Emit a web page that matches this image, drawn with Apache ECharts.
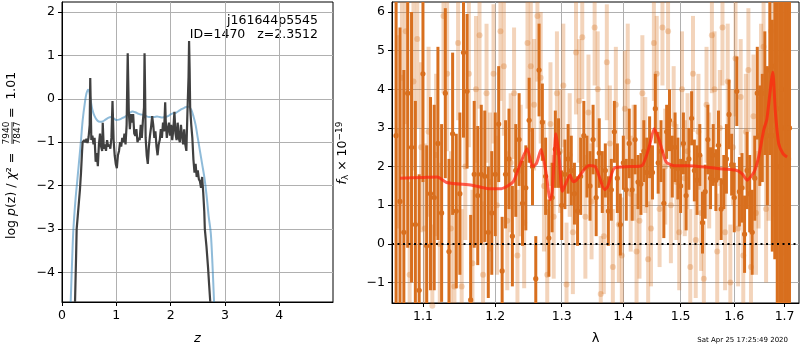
<!DOCTYPE html>
<html>
<head>
<meta charset="utf-8">
<script src="https://cdn.jsdelivr.net/npm/echarts@6/dist/echarts.min.js"></script>
<style>
  html, body { margin: 0; padding: 0; background: #fff; }
  #main { width: 800px; height: 350px; }
</style>
</head>
<body>
<div id="main"></div>
<script>
// ---- left panel: log p(z) ----
var zTicks = [0, 1, 2, 3, 4];
var logpTicks = [-4, -3, -2, -1, 0, 1, 2];

var zBlue = [0.16,0.19,0.21,0.25,0.28,0.31,0.35,0.38,0.42,0.45,0.48,0.50,0.53,0.56,0.60,0.65,0.70,0.75,0.80,0.85,
  0.90,0.95,1.00,1.05,1.10,1.15,1.20,1.25,1.30,1.35,1.40,1.45,1.50,1.55,1.60,1.65,1.70,1.75,1.80,1.85,
  1.90,1.95,2.00,2.05,2.10,2.15,2.20,2.25,2.30,2.34,2.38,2.42,2.46,2.50,2.54,2.58,2.62,2.66,2.70,2.74,2.77,2.80];
var logpBlue = [-4.68,-3.6,-3.0,-2.3,-1.9,-1.5,-0.95,-0.5,-0.1,0.12,0.21,0.18,-0.05,-0.25,-0.4,-0.5,-0.53,-0.52,-0.48,-0.44,
  -0.42,-0.45,-0.49,-0.48,-0.45,-0.42,-0.38,-0.32,-0.29,-0.31,-0.34,-0.36,-0.37,-0.40,-0.42,-0.42,-0.42,-0.41,-0.42,-0.43,
  -0.42,-0.40,-0.36,-0.33,-0.32,-0.28,-0.24,-0.21,-0.18,-0.18,-0.25,-0.4,-0.6,-0.9,-1.2,-1.5,-1.8,-2.2,-2.7,-3.1,-3.8,-4.68];

var zDark = [0.24,0.26,0.27,0.29,0.31,0.33,0.35,0.37,0.38,0.41,0.43,0.45,0.47,0.49,0.51,0.52,0.53,0.54,0.56,0.58,
  0.60,0.62,0.64,0.66,0.68,0.70,0.72,0.74,0.75,0.77,0.79,0.81,0.83,0.85,0.87,0.89,0.91,0.93,0.95,0.97,
  0.99,1.01,1.03,1.05,1.07,1.09,1.11,1.13,1.15,1.17,1.19,1.21,1.23,1.25,1.27,1.29,1.31,1.33,1.35,1.37,
  1.39,1.41,1.43,1.45,1.47,1.49,1.51,1.52,1.53,1.54,1.56,1.58,1.60,1.62,1.64,1.66,1.68,1.70,1.72,1.74,
  1.76,1.78,1.80,1.82,1.84,1.86,1.88,1.90,1.91,1.93,1.95,1.97,1.99,2.01,2.03,2.05,2.07,2.09,2.11,2.13,
  2.15,2.17,2.19,2.21,2.23,2.25,2.27,2.29,2.31,2.33,2.34,2.35,2.36,2.38,2.40,2.42,2.44,2.46,2.48,2.50,
  2.52,2.54,2.56,2.58,2.60,2.62,2.63,2.66,2.69,2.71,2.73];
var logpDark = [-4.68,-3.6,-3.0,-2.7,-2.4,-2.1,-1.7,-1.2,-1.0,-0.95,-1.0,-0.92,-1.02,-0.88,-0.6,0.48,-0.2,-0.95,-0.85,-1.05,
  -0.9,-1.45,-1.25,-1.55,-1.05,-0.8,-1.1,-1.2,-0.55,-1.15,-1.05,-1.2,-0.95,-1.1,-1.05,-1.15,-0.9,-0.05,-0.95,-1.3,
  -1.5,-1.6,-1.3,-1.2,-1.0,-1.1,-0.9,-1.0,-0.8,-1.05,-0.6,1.05,-0.3,-0.7,-0.35,-0.55,-0.35,-0.8,-0.85,-0.7,
  -1.0,-0.9,-0.95,-0.6,-0.9,-0.5,-0.2,1.05,0.2,-0.9,-1.3,-1.5,-1.1,-0.85,-0.65,-0.4,-0.6,-0.9,-0.75,-1.1,
  -1.3,-1.05,-0.95,-0.7,-0.9,-0.55,-0.75,-0.08,-0.5,-0.9,-0.7,-0.55,-0.85,-0.6,-0.95,-0.7,-0.3,-0.8,-0.95,-0.55,
  -0.9,-1.0,-0.6,-0.85,-1.05,-0.7,-1.05,-1.2,-0.3,0.5,1.33,0.7,-0.2,-0.6,-0.9,-1.4,-1.7,-1.5,-1.8,-1.65,
  -1.85,-1.9,-2.05,-1.8,-2.15,-2.6,-3.0,-3.4,-3.9,-4.3,-4.68];

// ---- right panel: spectrum ----
var waveTicks = [1.1, 1.2, 1.3, 1.4, 1.5, 1.6, 1.7];
var fluxTicks = [-1, 0, 1, 2, 3, 4, 5, 6];

var darkWave = [1.065,1.070,1.075,1.080,1.085,1.090,1.095,1.100,1.105,1.110,
  1.115,1.120,1.125,1.130,1.135,1.140,1.145,1.150,1.155,1.160,
  1.165,1.170,1.175,1.180,1.185,1.190,1.195,1.200,1.205,1.210,
  1.215,1.220,1.225,1.230,1.235,1.240,1.245,1.250,1.255,1.260,
  1.265,1.270,1.275,1.280,1.285,1.290,1.295,1.300,1.305,1.310,
  1.315,1.320,1.325,1.330,1.335,1.340,1.345,1.350,1.355,1.360,
  1.365,1.370,1.375,1.380,1.385,1.390,1.395,1.400,1.405,1.410,
  1.415,1.420,1.425,1.430,1.435,1.440,1.445,1.450,1.455,1.460,
  1.465,1.470,1.475,1.480,1.485,1.490,1.495,1.500,1.505,1.510,
  1.515,1.520,1.525,1.530,1.535,1.540,1.545,1.550,1.555,1.560,
  1.565,1.570,1.575,1.580,1.585,1.590,1.595,1.600,1.605,1.610,
  1.615,1.620,1.625,1.630,1.635,1.640,1.645,1.650,1.655,1.660,
  1.665,1.670,1.675,1.680,1.685,1.690,1.695,1.700,1.705,1.710];
var darkFlux = [2.8,1.1,0.3,3.9,2.5,0.5,-1.2,4.4,-0.05,1.3,
  1.2,2.6,0.8,3.9,-0.2,2.85,0.85,1.3,4.95,3.95,
  -1.45,1.8,1.25,1.8,1.75,0.3,0.8,1.8,3.1,-0.7,
  1.8,2.2,0.2,1.9,2.7,1.05,1.45,3.2,2.0,-0.9,
  4.5,3.15,1.75,0.15,1.2,2.45,2.35,1.0,1.8,2.2,
  1.9,1.3,0.85,1.75,2.8,2.0,1.5,2.7,1.2,2.35,
  1.6,1.9,0.85,1.4,2.9,1.7,0.5,2.1,1.4,2.6,
  1.4,2.7,1.6,1.55,2.4,1.85,2.5,1.85,3.5,2.1,
  2.4,1.05,2.9,3.2,2.0,2.5,1.95,1.5,2.6,1.25,
  2.2,3.25,1.9,1.65,2.3,0.55,1.35,2.7,1.7,2.3,
  1.65,2.55,0.9,1.6,2.2,3.35,2.05,1.2,3.95,1.35,
  1.45,0.25,1.9,1.3,0.3,1.7,3.9,2.8,3.0,3.9,
  2.8,4.5,2.8,4.6,3.5,2.0,4.0,3.0,2.5,3.0];
var darkErr = [5,4.5,4.2,4,3.5,3.2,3.0,2.8,2.6,2.5,
  2.4,2.5,2.3,2.2,2.4,2.1,2.0,2.1,2.2,2.0,
  2.2,1.9,1.8,1.8,1.7,1.7,1.6,1.6,1.5,1.4,
  1.4,1.3,1.3,1.2,1.2,1.1,1.1,1.1,1.0,1.1,
  1.2,1.0,1.0,1.0,0.9,1.0,0.9,0.9,0.9,0.9,
  0.9,0.8,0.9,1.0,0.9,0.8,0.9,0.9,1.0,0.9,
  0.8,0.7,0.9,0.8,0.8,0.9,0.8,0.7,0.8,0.9,
  0.8,0.9,0.7,0.8,0.8,0.9,0.8,0.7,0.9,0.8,
  0.8,0.9,0.7,0.8,0.8,0.9,0.8,0.7,0.8,0.9,
  0.8,0.7,0.8,0.9,0.8,0.8,0.7,0.9,0.8,0.8,
  0.8,0.9,0.8,0.7,0.9,0.9,0.8,0.9,0.9,0.9,
  0.9,1.0,1.0,1.0,1.1,1.1,1.2,1.3,1.4,1.6,
  1.8,2.2,3,5,6,7,7,8,8,8];

var lightWave = [1.0675,1.0725,1.0775,1.0825,1.0875,1.0925,1.0975,1.1025,1.1075,1.1125,
  1.1175,1.1225,1.1275,1.1325,1.1375,1.1425,1.1475,1.1525,1.1575,1.1625,
  1.1675,1.1725,1.1775,1.1825,1.1875,1.1925,1.1975,1.2025,1.2075,1.2125,
  1.2175,1.2225,1.2275,1.2325,1.2375,1.2425,1.2475,1.2525,1.2575,1.2625,
  1.2675,1.2725,1.2775,1.2825,1.2875,1.2925,1.2975,1.3025,1.3075,1.3125,
  1.3175,1.3225,1.3275,1.3325,1.3375,1.3425,1.3475,1.3525,1.3575,1.3625,
  1.3675,1.3725,1.3775,1.3825,1.3875,1.3925,1.3975,1.4025,1.4075,1.4125,
  1.4175,1.4225,1.4275,1.4325,1.4375,1.4425,1.4475,1.4525,1.4575,1.4625,
  1.4675,1.4725,1.4775,1.4825,1.4875,1.4925,1.4975,1.5025,1.5075,1.5125,
  1.5175,1.5225,1.5275,1.5325,1.5375,1.5425,1.5475,1.5525,1.5575,1.5625,
  1.5675,1.5725,1.5775,1.5825,1.5875,1.5925,1.5975,1.6025,1.6075,1.6125,
  1.6175,1.6225,1.6275,1.6325,1.6375,1.6425,1.6475,1.6525,1.6575,1.6625,
  1.6675,1.6725,1.6775,1.6825,1.6875,1.6925,1.6975,1.7025,1.7075];
var lightFlux = [2.9,4.3,5.5,-0.8,4.2,5.3,2.5,0.4,2.9,-1.6,
  2.3,0.0,5.9,4.4,0.4,-1.1,5.2,-1.1,2.0,4.4,
  -0.5,4.0,5.4,-0.8,3.9,1.6,4.4,1.0,5.5,4.6,
  0.6,2.1,3.9,-0.3,1.9,0.55,5.2,4.6,3.6,5.9,
  4.3,1.5,-0.8,3.1,0.7,3.9,2.4,4.1,-1.05,2.3,
  0.3,4.95,3.7,5.35,0.7,3.4,1.1,5.6,4.0,-1.3,
  0.2,4.7,2.6,-0.6,3.6,0.5,-0.3,3.5,4.2,1.3,
  2.1,-0.2,0.6,3.9,2.3,-0.4,0.4,5.2,4.4,0.9,
  5.6,2.0,5.5,1.0,3.1,1.6,0.3,4.0,1.7,2.4,
  -0.6,4.4,0.1,2.9,0.8,-0.9,3.6,1.9,5.4,4.0,
  -0.2,3.0,5.6,0.3,4.2,-1.0,2.5,4.8,0.4,3.8,
  -0.3,2.9,4.5,-0.6,3.3,0.8,2.1,4.0,5.1,0.9,
  2.6,5.5,3.2,2.8,4.8,1.2,3.7,5.0,2.2];
var lightErr = [2.5,2.5,2.4,2.4,2.3,2.3,2.2,2.2,2.2,2.1,
  2.1,2.1,2.0,2.0,2.0,2.0,2.0,2.0,1.9,1.9,
  1.9,1.9,1.9,1.9,1.8,1.8,1.8,1.8,1.8,1.8,
  1.8,1.8,1.7,1.7,1.7,1.7,1.7,1.7,1.7,1.7,
  1.7,1.7,1.7,1.6,1.6,1.6,1.6,1.6,1.6,1.6,
  1.6,1.6,1.6,1.6,1.6,1.5,1.5,1.5,1.5,1.5,
  1.5,1.5,1.5,1.5,1.5,1.5,1.5,1.5,1.5,1.5,
  1.5,1.5,1.5,1.5,1.5,1.5,1.5,1.5,1.5,1.5,
  1.5,1.5,1.5,1.5,1.5,1.5,1.5,1.5,1.5,1.5,
  1.5,1.5,1.5,1.5,1.5,1.5,1.5,1.5,1.5,1.5,
  1.5,1.5,1.5,1.5,1.5,1.5,1.5,1.5,1.5,1.5,
  1.5,1.5,1.6,1.6,1.6,1.6,1.7,1.7,1.8,1.9,
  2.0,2.2,2.5,3,3.5,4,4,4,4];

var modelWave = [1.070,1.101,1.119,1.133,1.167,1.190,1.209,1.226,1.235,1.247,1.255,1.261,1.268,1.275,1.282,1.285,
  1.291,1.296,1.301,1.313,1.318,1.323,1.343,1.354,1.369,1.374,1.385,1.411,1.432,1.444,1.453,1.462,1.474,
  1.489,1.513,1.544,1.569,1.602,1.615,1.625,1.639,1.648,1.658,1.664,1.676,1.681,1.688,1.697,1.705];
var modelFlux = [1.70,1.72,1.73,1.58,1.52,1.43,1.43,1.60,1.99,2.46,2.00,2.08,2.44,1.91,1.14,1.31,
  2.85,2.26,1.36,1.78,1.61,1.65,2.03,1.99,1.40,1.48,1.96,2.00,2.03,2.50,2.98,2.68,2.12,
  2.02,2.02,1.99,1.95,1.91,1.82,1.65,1.87,2.27,2.96,3.22,4.44,3.45,2.59,2.33,2.25];

var FONT = 'DejaVu Sans';
var minus = function (s) { return String(s).replace('-', '\u2212'); };

function pairs(xs, ys) {
    return xs.map(function (x, i) { return [x, ys[i]]; });
}
// wavelength axis is logarithmic: plot ln(lambda)
function logPairs(ws, fs) {
    return ws.map(function (w, i) { return [Math.log(w), fs[i]]; });
}
function bars(ws, fs, es) {
    return ws.map(function (w, i) { return [Math.log(w), fs[i], es[i]]; });
}

function errorBars(color, barW, dotR) {
    return function (params, api) {
        var x = api.value(0), y = api.value(1), e = api.value(2);
        var hi = api.coord([x, y + e]);
        var lo = api.coord([x, y - e]);
        var mid = api.coord([x, y]);
        var cs = params.coordSys;
        var box = {x: cs.x, y: cs.y, width: cs.width, height: cs.height};
        var bar = echarts.graphic.clipRectByRect(
            {x: hi[0] - barW / 2, y: hi[1], width: barW, height: lo[1] - hi[1]}, box);
        var kids = [];
        if (bar) kids.push({type: 'rect', shape: bar, style: {fill: color}});
        if (mid[1] >= cs.y - dotR && mid[1] <= cs.y + cs.height + dotR) {
            kids.push({type: 'circle', shape: {cx: mid[0], cy: mid[1], r: dotR}, style: {fill: color}});
        }
        return {type: 'group', children: kids};
    };
}

var axisCommon = {
    axisLine: {show: true, onZero: false, lineStyle: {color: '#000', width: 1}},
    axisTick: {show: true, length: 4, lineStyle: {color: '#000', width: 1}},
    splitLine: {show: true, lineStyle: {color: '#b0b0b0', width: 1}},
    nameTextStyle: {color: '#000', fontFamily: FONT, fontSize: 13}
};
function axis(extra, ticks, fmt) {
    var a = echarts.util.merge(echarts.util.clone(axisCommon), extra, true);
    a.axisTick.customValues = ticks;
    a.axisLabel = {customValues: ticks, color: '#000', fontFamily: FONT, fontSize: 12.5, margin: 7, formatter: fmt};
    return a;
}

var lnTicks = waveTicks.map(Math.log);

var chart = echarts.init(document.getElementById('main'));

var option = {
    animation: false,
    backgroundColor: '#fff',
    textStyle: {fontFamily: FONT},
    grid: [
        {left: 62, top: 2, width: 271, height: 302, show: true, borderColor: '#000', borderWidth: 1},
        {left: 392, top: 2, width: 407, height: 302, show: true, borderColor: '#000', borderWidth: 1}
    ],
    xAxis: [
        axis({type: 'value', gridIndex: 0, min: 0, max: 4.99, name: 'z', nameLocation: 'middle', nameGap: 30,
              nameTextStyle: {fontStyle: 'italic'}}, zTicks, function (v) { return minus(v); }),
        axis({type: 'value', gridIndex: 1, min: 0.05805, max: 0.54795, name: 'λ', nameLocation: 'middle', nameGap: 29},
             lnTicks, function (v) { return Math.exp(v).toFixed(1); })
    ],
    yAxis: [
        axis({type: 'value', gridIndex: 0, min: -4.68, max: 2.23}, logpTicks, function (v) { return minus(v); }),
        axis({type: 'value', gridIndex: 1, min: -1.53, max: 6.26}, fluxTicks, function (v) { return minus(v); })
    ],
    graphic: [
        {type: 'group', x: 12, y: 239, rotation: Math.PI / 2, children: [
            {type: 'text', x: 0, y: 0, style: {text: 'log {i|p}(z) / {i|χ}² =', fill: '#000', font: '12.5px "DejaVu Sans"',
                textAlign: 'left', textVerticalAlign: 'middle', align: 'left', verticalAlign: 'middle',
                rich: {i: {fontStyle: 'italic', fontSize: 12.5, fontFamily: FONT}}}},
            {type: 'text', x: 106, y: -5, style: {text: '7940', fill: '#000', font: '9px "DejaVu Sans"',
                textAlign: 'center', textVerticalAlign: 'middle', align: 'center', verticalAlign: 'middle'}},
            {type: 'line', shape: {x1: 95, y1: 0, x2: 117, y2: 0}, style: {stroke: '#000', lineWidth: 0.8}},
            {type: 'text', x: 106, y: 5.5, style: {text: '7847', fill: '#000', font: '9px "DejaVu Sans"',
                textAlign: 'center', textVerticalAlign: 'middle', align: 'center', verticalAlign: 'middle'}},
            {type: 'text', x: 121, y: 0, style: {text: '=  1.01', fill: '#000', font: '12.5px "DejaVu Sans"',
                textAlign: 'left', textVerticalAlign: 'middle', align: 'left', verticalAlign: 'middle'}}
        ]},
        {type: 'text', x: 343, y: 153, rotation: Math.PI / 2, style: {
            text: '{i|f}{sub|λ} × 10{sup|−19}', fill: '#000', font: '12.5px "DejaVu Sans"',
            textAlign: 'center', textVerticalAlign: 'middle', align: 'center', verticalAlign: 'middle',
            rich: {
                i: {fontStyle: 'italic', fontSize: 12.5, fontFamily: FONT},
                sub: {fontSize: 9, fontFamily: FONT, verticalAlign: 'bottom', padding: [6, 0, 0, 0]},
                sup: {fontSize: 9, fontFamily: FONT, verticalAlign: 'top', padding: [0, 0, 6, 0]}
            }}},
        {type: 'text', x: 318, y: 21, style: {text: 'j161644p5545', fill: '#000', font: '12.5px "DejaVu Sans"',
            textAlign: 'right', textVerticalAlign: 'middle', align: 'right', verticalAlign: 'middle'}},
        {type: 'text', x: 318, y: 35, style: {text: 'ID=1470   z=2.3512', fill: '#000', font: '12.5px "DejaVu Sans"',
            textAlign: 'right', textVerticalAlign: 'middle', align: 'right', verticalAlign: 'middle'}},
        {type: 'text', x: 788, y: 340, style: {text: 'Sat Apr 25 17:25:49 2020', fill: '#000', font: '7px "DejaVu Sans"',
            textAlign: 'right', textVerticalAlign: 'middle', align: 'right', verticalAlign: 'middle'}}
    ],
    series: [
        {type: 'line', xAxisIndex: 0, yAxisIndex: 0, data: pairs(zBlue, logpBlue), symbol: 'none', smooth: 0.3,
         lineStyle: {color: 'rgba(31,119,180,0.5)', width: 2}, z: 3},
        {type: 'line', xAxisIndex: 0, yAxisIndex: 0, data: pairs(zDark, logpDark), symbol: 'none',
         lineStyle: {color: '#404040', width: 2.2}, z: 4},
        {type: 'custom', xAxisIndex: 1, yAxisIndex: 1, data: bars(lightWave, lightFlux, lightErr),
         renderItem: errorBars('rgba(216,111,30,0.3)', 4, 3), encode: {x: 0, y: 1}, z: 3},
        {type: 'custom', xAxisIndex: 1, yAxisIndex: 1, data: bars(darkWave, darkFlux, darkErr),
         renderItem: errorBars('#d86f1e', 3, 2.6), encode: {x: 0, y: 1}, z: 4},
        {type: 'line', xAxisIndex: 1, yAxisIndex: 1, data: logPairs(modelWave, modelFlux),
         symbol: 'none', smooth: 0.2, lineStyle: {color: 'rgba(255,35,15,0.72)', width: 3}, z: 5,
         markLine: {silent: true, symbol: 'none', label: {show: false},
                    lineStyle: {color: '#000', type: [2, 3.5], width: 2}, data: [{yAxis: 0}]}}
    ]
};

chart.setOption(option);
</script>
</body>
</html>
